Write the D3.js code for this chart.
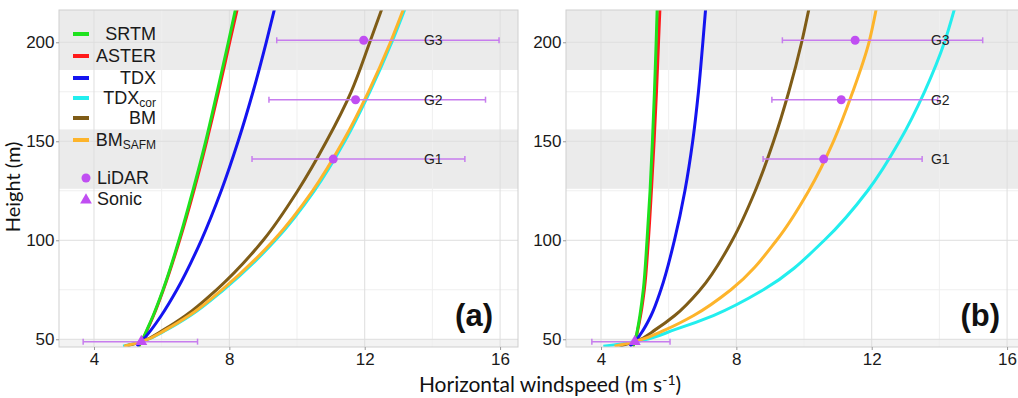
<!DOCTYPE html>
<html>
<head>
<meta charset="utf-8">
<script src="https://cdn.jsdelivr.net/npm/d3@7"></script>
<style>
  body { margin: 0; background: #fff; }
  svg { display: block; }
</style>
</head>
<body>
<script>
// hauteurs (m) communes à tous les profils
const heights = [46.5, 48.8, 55, 62, 75, 100, 125, 150, 175, 200, 216.5];

// panneau (a)
const srtmA   = [5.32, 5.40, 5.57, 5.75, 6.04, 6.51, 6.92, 7.30, 7.64, 7.97, 8.18];
const asterA  = [5.32, 5.40, 5.58, 5.76, 6.05, 6.53, 6.95, 7.33, 7.68, 8.01, 8.23];
const tdxA    = [5.27, 5.40, 5.70, 5.99, 6.45, 7.17, 7.76, 8.26, 8.70, 9.09, 9.33];
const tdxCorA = [4.86, 5.40, 6.17, 6.85, 7.83, 9.36, 10.51, 11.41, 12.15, 12.80, 13.18];
const bmA     = [4.93, 5.40, 6.08, 6.71, 7.62, 9.00, 10.02, 10.87, 11.60, 12.15, 12.50];
const safmA   = [4.89, 5.40, 6.14, 6.81, 7.78, 9.31, 10.46, 11.36, 12.11, 12.76, 13.14];

// panneau (b)
const srtmB   = [4.94, 5.00, 5.08, 5.15, 5.25, 5.36, 5.45, 5.52, 5.58, 5.63, 5.66];
const asterB  = [4.94, 5.00, 5.09, 5.17, 5.28, 5.40, 5.49, 5.57, 5.64, 5.70, 5.74];
const tdxB    = [4.85, 5.00, 5.26, 5.48, 5.77, 6.17, 6.48, 6.71, 6.88, 7.01, 7.09];
const tdxCorB = [4.07, 5.00, 6.20, 7.32, 8.80, 10.60, 11.88, 12.82, 13.56, 14.15, 14.44];
const bmB     = [4.54, 5.00, 5.62, 6.18, 6.93, 7.88, 8.56, 9.10, 9.55, 9.93, 10.14];
const safmB   = [4.40, 5.00, 5.93, 6.74, 7.84, 9.19, 10.14, 10.87, 11.44, 11.92, 12.13];

// mesures LiDAR (G1..G3) et sonic
const lidarNames   = ["G1", "G2", "G3"];
const lidarHeights = [141, 171, 201];
const lidarA    = [11.07, 11.73, 11.97];
const lidarLoA  = [8.67, 9.17, 9.40];
const lidarHiA  = [14.96, 15.57, 15.97];
const lidarB    = [10.58, 11.10, 11.51];
const lidarLoB  = [8.79, 9.05, 9.36];
const lidarHiB  = [13.49, 13.95, 15.28];
const sonicHeight = 48.8;
const sonicA = [5.40, 3.68, 7.06];   // valeur, min, max
const sonicB = [5.00, 3.73, 6.04];

// bandes grises (m)
const bands = [[40, 50], [126, 156], [186, 216.5]];

const seriesNames = ["SRTM", "ASTER", "TDX", "TDXcor", "BM", "BMSAFM"];
const seriesColors = ["#1ee21e", "#ff1a1a", "#1414f0", "#22eeee", "#7f5c17", "#fdb42b"];
const drawOrder = ["ASTER", "SRTM", "TDX", "TDXcor", "BM", "BMSAFM"];

const xTicks = [4, 8, 12, 16], xMinor = [6, 10, 14];
const yTicks = [50, 100, 150, 200], yMinor = [75, 125, 175];

const width = 1018, height = 398;
const pw = 459, ph = 337, plotTop = 10;
const pointColor = "#c04ef2", barColor = "#c77dee";

const svg = d3.select("body").append("svg")
    .attr("width", width).attr("height", height);

const x = d3.scaleLinear().domain([2.966, 16.53]).range([0, pw]);
const y = d3.scaleLinear().domain([46.1, 216.3]).range([ph, 0]);

const panels = [
    { left: 59, label: "(a)", series: [srtmA, asterA, tdxA, tdxCorA, bmA, safmA],
      lidar: lidarA, lo: lidarLoA, hi: lidarHiA, sonic: sonicA },
    { left: 566, label: "(b)", series: [srtmB, asterB, tdxB, tdxCorB, bmB, safmB],
      lidar: lidarB, lo: lidarLoB, hi: lidarHiB, sonic: sonicB }
];

const line = d3.line()
    .x(d => x(d[0]))
    .y(d => y(d[1]))
    .curve(d3.curveMonotoneY);

panels.forEach((p, pi) => {
    const g = svg.append("g").attr("transform", `translate(${p.left},${plotTop})`);
    const clipId = "clip" + pi;
    g.append("clipPath").attr("id", clipId)
        .append("rect").attr("width", pw).attr("height", ph);

    // bandes
    g.selectAll(".band").data(bands).join("rect")
        .attr("class", "band")
        .attr("x", 0).attr("width", pw)
        .attr("y", d => y(Math.min(d[1], 216.3)))
        .attr("height", d => y(Math.max(d[0], 46.1)) - y(Math.min(d[1], 216.3)))
        .attr("fill", (d, i) => i === 0 ? "#f3f3f3" : "#ebebeb");

    // grille
    g.selectAll(".vminor").data(xMinor).join("line")
        .attr("x1", d => x(d)).attr("x2", d => x(d)).attr("y1", 0).attr("y2", ph)
        .attr("stroke", "#efefef").attr("stroke-width", 1);
    g.selectAll(".hminor").data(yMinor).join("line")
        .attr("y1", d => y(d)).attr("y2", d => y(d)).attr("x1", 0).attr("x2", pw)
        .attr("stroke", "#efefef").attr("stroke-width", 1);
    g.selectAll(".vmajor").data(xTicks).join("line")
        .attr("x1", d => x(d)).attr("x2", d => x(d)).attr("y1", 0).attr("y2", ph)
        .attr("stroke", "#dedede").attr("stroke-width", 1);
    g.selectAll(".hmajor").data(yTicks).join("line")
        .attr("y1", d => y(d)).attr("y2", d => y(d)).attr("x1", 0).attr("x2", pw)
        .attr("stroke", "#dedede").attr("stroke-width", 1);

    const inner = g.append("g").attr("clip-path", `url(#${clipId})`);

    // profils de vent
    drawOrder.forEach(name => {
        const i = seriesNames.indexOf(name);
        const pts = heights.map((h, k) => [p.series[i][k], h]);
        inner.append("path")
            .attr("d", line(pts))
            .attr("fill", "none")
            .attr("stroke", seriesColors[i])
            .attr("stroke-width", 3);
    });

    // barres d'erreur LiDAR
    lidarHeights.forEach((h, k) => {
        const eb = inner.append("g").attr("stroke", barColor).attr("stroke-width", 1.5);
        eb.append("line").attr("x1", x(p.lo[k])).attr("x2", x(p.hi[k]))
            .attr("y1", y(h)).attr("y2", y(h));
        eb.append("line").attr("x1", x(p.lo[k])).attr("x2", x(p.lo[k]))
            .attr("y1", y(h) - 3).attr("y2", y(h) + 3);
        eb.append("line").attr("x1", x(p.hi[k])).attr("x2", x(p.hi[k]))
            .attr("y1", y(h) - 3).attr("y2", y(h) + 3);
        inner.append("circle").attr("cx", x(p.lidar[k])).attr("cy", y(h))
            .attr("r", 4.5).attr("fill", pointColor);
        inner.append("text").attr("x", x(13.75)).attr("y", y(h))
            .attr("dy", "0.36em")
            .attr("font-family", "Liberation Sans, Arial, sans-serif")
            .attr("font-size", 14).attr("fill", "#222")
            .text(lidarNames[k]);
    });

    // sonic
    const sb = inner.append("g").attr("stroke", barColor).attr("stroke-width", 1.5);
    sb.append("line").attr("x1", x(p.sonic[1])).attr("x2", x(p.sonic[2]))
        .attr("y1", y(sonicHeight)).attr("y2", y(sonicHeight));
    [p.sonic[1], p.sonic[2]].forEach(v => {
        sb.append("line").attr("x1", x(v)).attr("x2", x(v))
            .attr("y1", y(sonicHeight) - 3).attr("y2", y(sonicHeight) + 3);
    });
    inner.append("path")
        .attr("d", d3.symbol().type(d3.symbolTriangle).size(60)())
        .attr("transform", `translate(${x(p.sonic[0])},${y(sonicHeight)})`)
        .attr("fill", pointColor);

    // cadre
    g.append("rect").attr("width", pw).attr("height", ph)
        .attr("fill", "none").attr("stroke", "#cfcfcf").attr("stroke-width", 1);

    // axes
    const ax = g.append("g").attr("transform", `translate(0,${ph})`)
        .call(d3.axisBottom(x).tickValues(xTicks).tickSize(3).tickPadding(3).tickFormat(d3.format("d")));
    const ay = g.append("g")
        .call(d3.axisLeft(y).tickValues(yTicks).tickSize(3).tickPadding(1.5).tickFormat(d3.format("d")));
    [ax, ay].forEach(a => {
        a.select(".domain").remove();
        a.selectAll(".tick line").attr("stroke", "#999");
        a.selectAll("text").attr("font-family", "Liberation Sans, Arial, sans-serif")
            .attr("font-size", 17).attr("fill", "#1a1a1a");
    });

    // étiquette du panneau
    g.append("text").attr("x", pw - 25).attr("y", 316)
        .attr("text-anchor", "end")
        .attr("font-family", "Liberation Sans, Arial, sans-serif")
        .attr("font-weight", "bold").attr("font-size", 31).attr("fill", "#111")
        .text(p.label);
});

// légende (dans le panneau a)
const legend = svg.append("g")
    .attr("font-family", "Liberation Sans, Arial, sans-serif")
    .attr("font-size", 18).attr("fill", "#1a1a1a");
const legendRows = [34, 56, 78, 98, 118, 140];
seriesNames.forEach((name, i) => {
    legend.append("line").attr("x1", 73).attr("x2", 89)
        .attr("y1", legendRows[i]).attr("y2", legendRows[i])
        .attr("stroke", seriesColors[i]).attr("stroke-width", 4);
    const t = legend.append("text").attr("x", 156).attr("y", legendRows[i])
        .attr("dy", "0.36em").attr("text-anchor", "end");
    if (name === "TDXcor" || name === "BMSAFM") {
        const base = name === "TDXcor" ? "TDX" : "BM";
        t.append("tspan").text(base);
        t.append("tspan").attr("font-size", 12).attr("dy", "3").text(name.slice(base.length));
    } else {
        t.text(name);
    }
});
legend.append("circle").attr("cx", 86).attr("cy", 178).attr("r", 4.5).attr("fill", pointColor);
legend.append("text").attr("x", 97).attr("y", 178).attr("dy", "0.36em").text("LiDAR");
legend.append("path")
    .attr("d", d3.symbol().type(d3.symbolTriangle).size(60)())
    .attr("transform", "translate(86,200)")
    .attr("fill", pointColor);
legend.append("text").attr("x", 97).attr("y", 199).attr("dy", "0.36em").text("Sonic");

// titres des axes
svg.append("text")
    .attr("transform", "translate(13,187) rotate(-90)")
    .attr("dy", "0.35em").attr("text-anchor", "middle")
    .attr("font-family", "Lato, sans-serif").attr("font-size", 20).attr("fill", "#111")
    .text("Height (m)");

const xt = svg.append("text")
    .attr("x", 550).attr("y", 392).attr("text-anchor", "middle")
    .attr("font-family", "Lato, sans-serif").attr("font-size", 21).attr("fill", "#111");
xt.append("tspan").text("Horizontal windspeed (m s");
xt.append("tspan").attr("font-size", 14).attr("dy", "-7").text("-1");
xt.append("tspan").attr("dy", "7").text(")");
</script>
</body>
</html>
